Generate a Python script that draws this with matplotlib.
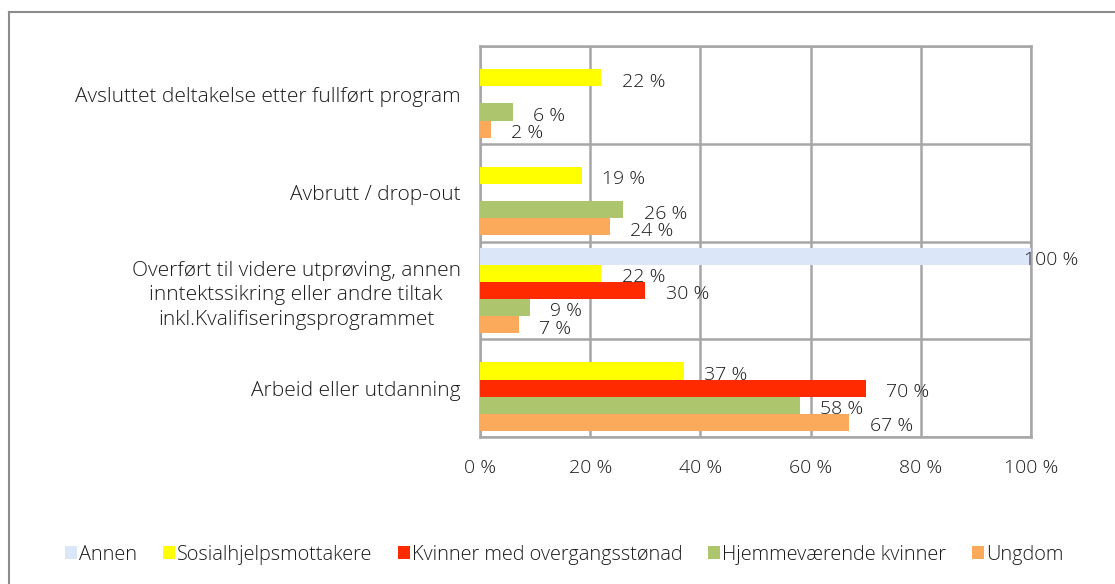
"""Utfall etter deltakergruppe: liggende grupperte søyler."""

import matplotlib

matplotlib.use("Agg")
import matplotlib.pyplot as plt
from matplotlib.lines import Line2D
from matplotlib.patches import Patch

plt.rcParams["font.family"] = ["Open Sans", "DejaVu Sans"]
plt.rcParams["font.weight"] = 300

# nederst -> øverst
categories = [
    "Arbeid eller utdanning",
    "Overført til videre utprøving, annen\ninntektssikring eller andre tiltak\ninkl.Kvalifiseringsprogrammet",
    "Avbrutt / drop-out",
    "Avsluttet deltakelse etter fullført program",
]
series = ["Annen", "Sosialhjelpsmottakere", "Kvinner med overgangsstønad",
          "Hjemmeværende kvinner", "Ungdom"]
annen = [0, 100, 0, 0]
sosial = [37, 22, 18.5, 22]
kvinner = [70, 30, 0, 0]
hjemme = [58, 9, 26, 6]
ungdom = [67, 7, 23.5, 2]
labels = {
    "Annen": [None, "100 %", None, None],
    "Sosialhjelpsmottakere": ["37 %", "22 %", "19 %", "22 %"],
    "Kvinner med overgangsstønad": ["70 %", "30 %", None, None],
    "Hjemmeværende kvinner": ["58 %", "9 %", "26 %", "6 %"],
    "Ungdom": ["67 %", "7 %", "24 %", "2 %"],
}
colors = ["#dbe6f9", "#ffff00", "#ff2a00", "#adc56d", "#fba95b"]
xticks = [0, 20, 40, 60, 80, 100]

TEXT = "#1a1a1a"
GRID = "#a6a6a6"
FS = 14

fig = plt.figure(figsize=(11.15, 5.84), dpi=100)
ax = fig.add_axes([0.4305, 0.2517, 0.4942, 0.6695])

h = 0.175
values = [annen, sosial, kvinner, hjemme, ungdom]
for j, (name, vals, col) in enumerate(zip(series, values, colors)):
    ys = [i + (2 - j) * h for i in range(len(categories))]
    ax.barh(ys, vals, height=h, color=col, zorder=3)
    for y, v, lab in zip(ys, vals, labels[name]):
        if lab is None:
            continue
        ax.text(min(v + 3.7, 98.8), y - 0.04, lab, ha="left", va="center",
                fontsize=FS, color=TEXT, zorder=4, clip_on=False)

ax.set_xlim(0, 100)
ax.set_ylim(-0.5, 3.5)
ax.set_xticks(xticks)
ax.set_xticklabels([f"{t} %" for t in xticks])
ax.set_yticks(range(len(categories)))
ax.set_yticklabels(categories, multialignment="center", linespacing=1.3, fontsize=15)
ax.set_yticks([-0.5, 0.5, 1.5, 2.5, 3.5], minor=True)
ax.tick_params(axis="both", which="both", length=0, colors=TEXT)
ax.tick_params(axis="x", labelsize=FS, pad=16)
ax.tick_params(axis="y", pad=14)
ax.grid(axis="x", color=GRID, linewidth=1.8, zorder=1)
ax.grid(axis="y", which="minor", color=GRID, linewidth=1.8, zorder=1)
for s in ax.spines.values():
    s.set_color(GRID)
    s.set_linewidth(1.8)

handles = [Patch(facecolor=c, edgecolor="none") for c in colors]
fig.legend(handles, series, loc="center", bbox_to_anchor=(0.506, 0.05), ncol=5,
           frameon=False, fontsize=14.3, handlelength=0.6, handleheight=0.6,
           handletextpad=0.1, columnspacing=1.3, labelcolor=TEXT)

# ytre ramme
fig.add_artist(Line2D([9 / 1115, 9 / 1115], [0, 1 - 12 / 584], color="#8c8c8c",
                      linewidth=1.5, transform=fig.transFigure))
fig.add_artist(Line2D([9 / 1115, 1], [1 - 12 / 584, 1 - 12 / 584], color="#8c8c8c",
                      linewidth=1.5, transform=fig.transFigure))

fig.savefig("out.png", dpi=100)
